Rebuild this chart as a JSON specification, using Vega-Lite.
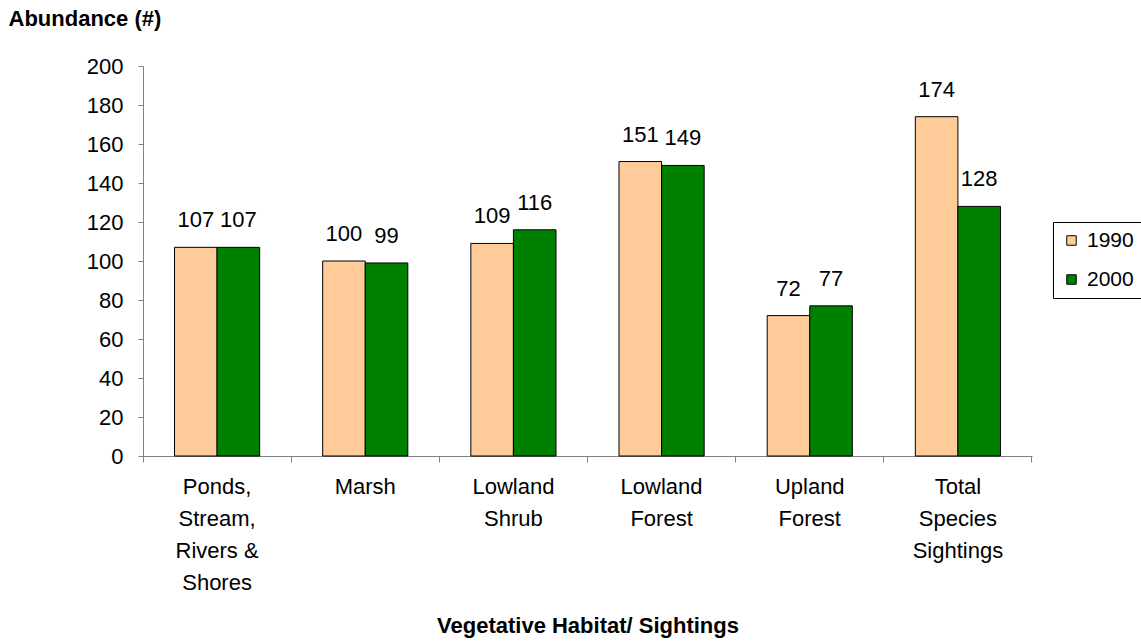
{
  "$schema": "https://vega.github.io/schema/vega-lite/v6.json",
  "autosize": "none",
  "width": 889,
  "height": 390,
  "padding": {"left": 143, "top": 66, "right": 109, "bottom": 186},
  "background": "white",
  "config": {
    "view": {"stroke": null},
    "font": "Liberation Sans",
    "axis": {"labelFont": "Liberation Sans", "titleFont": "Liberation Sans", "labelColor": "black", "titleColor": "black", "domainColor": "#808080", "tickColor": "#808080", "grid": false}
  },
  "data": {
    "values": [
      {"habitat": "Ponds,|Stream,|Rivers &|Shores", "year": "1990", "count": 107},
      {"habitat": "Ponds,|Stream,|Rivers &|Shores", "year": "2000", "count": 107},
      {"habitat": "Marsh", "year": "1990", "count": 100},
      {"habitat": "Marsh", "year": "2000", "count": 99},
      {"habitat": "Lowland|Shrub", "year": "1990", "count": 109},
      {"habitat": "Lowland|Shrub", "year": "2000", "count": 116},
      {"habitat": "Lowland|Forest", "year": "1990", "count": 151},
      {"habitat": "Lowland|Forest", "year": "2000", "count": 149},
      {"habitat": "Upland|Forest", "year": "1990", "count": 72},
      {"habitat": "Upland|Forest", "year": "2000", "count": 77},
      {"habitat": "Total|Species|Sightings", "year": "1990", "count": 174},
      {"habitat": "Total|Species|Sightings", "year": "2000", "count": 128}
    ]
  },
  "encoding": {
    "x": {"field": "habitat", "type": "nominal", "sort": null,
      "scale": {"paddingInner": 0, "paddingOuter": 0}},
    "xOffset": {"field": "year", "type": "nominal", "scale": {"paddingInner": 0, "paddingOuter": 0.74}},
    "y": {"field": "count", "type": "quantitative",
      "scale": {"domain": [0, 200], "nice": false},
      "axis": {"values": [0,20,40,60,80,100,120,140,160,180,200], "tickSize": 5, "labelPadding": 15, "labelFontSize": 22,
        "domainColor": "#808080", "title": "Abundance (#)", "titleAngle": 0, "titleAlign": "left", "titleBaseline": "alphabetic",
        "titleX": -135, "titleY": -41, "titleFontSize": 22, "titleFontWeight": "bold"}}
  },
  "layer": [
    {
      "mark": {"type": "bar", "stroke": "black", "strokeWidth": 1},
      "encoding": {
        "x": {"field": "habitat", "type": "nominal", "sort": null,
          "axis": {"orient": "bottom", "ticks": false, "tickSize": 0, "labelAngle": 0, "labelPadding": 20, "labelFontSize": 22,
            "labelBaseline": "top", "labelLineHeight": 32, "labelExpr": "split(datum.label, '|')",
            "title": "Vegetative Habitat/ Sightings", "titleFontSize": 22, "titleFontWeight": "bold",
            "titleBaseline": "alphabetic", "titleY": 176, "titleX": 444.5}},
        "color": {"field": "year", "type": "nominal",
          "scale": {"domain": ["1990", "2000"], "range": ["#FFCC99", "#008000"]},
          "legend": {"title": null, "orient": "none", "legendX": 910, "legendY": 156, "strokeColor": "black",
            "padding": 8, "symbolType": "square", "symbolSize": 90, "symbolStrokeColor": "black", "symbolStrokeWidth": 1,
            "labelFontSize": 21, "labelOffset": 5, "rowPadding": 17, "labelFont": "Liberation Sans"}}
      }
    },
    {
      "mark": {"type": "text", "fontSize": 22, "baseline": "alphabetic", "dy": -20, "font": "Liberation Sans", "color": "black"},
      "encoding": {
        "x": {"field": "habitat", "type": "nominal", "sort": null,
          "axis": {"orient": "bottom", "bandPosition": 0, "ticks": true, "tickSize": 6, "labels": false, "domain": false, "title": null}},
        "text": {"field": "count", "type": "quantitative"}
      }
    },
    {
      "mark": {"type": "text", "opacity": 0},
      "encoding": {
        "x": {"field": "habitat", "type": "nominal", "sort": null,
          "axis": {"orient": "bottom", "bandPosition": 1, "values": ["Total|Species|Sightings"], "ticks": true, "tickSize": 6, "labels": false, "domain": false, "title": null}},
        "text": {"field": "count", "type": "quantitative"}
      }
    }
  ],
  "resolve": {"axis": {"x": "independent"}}
}
